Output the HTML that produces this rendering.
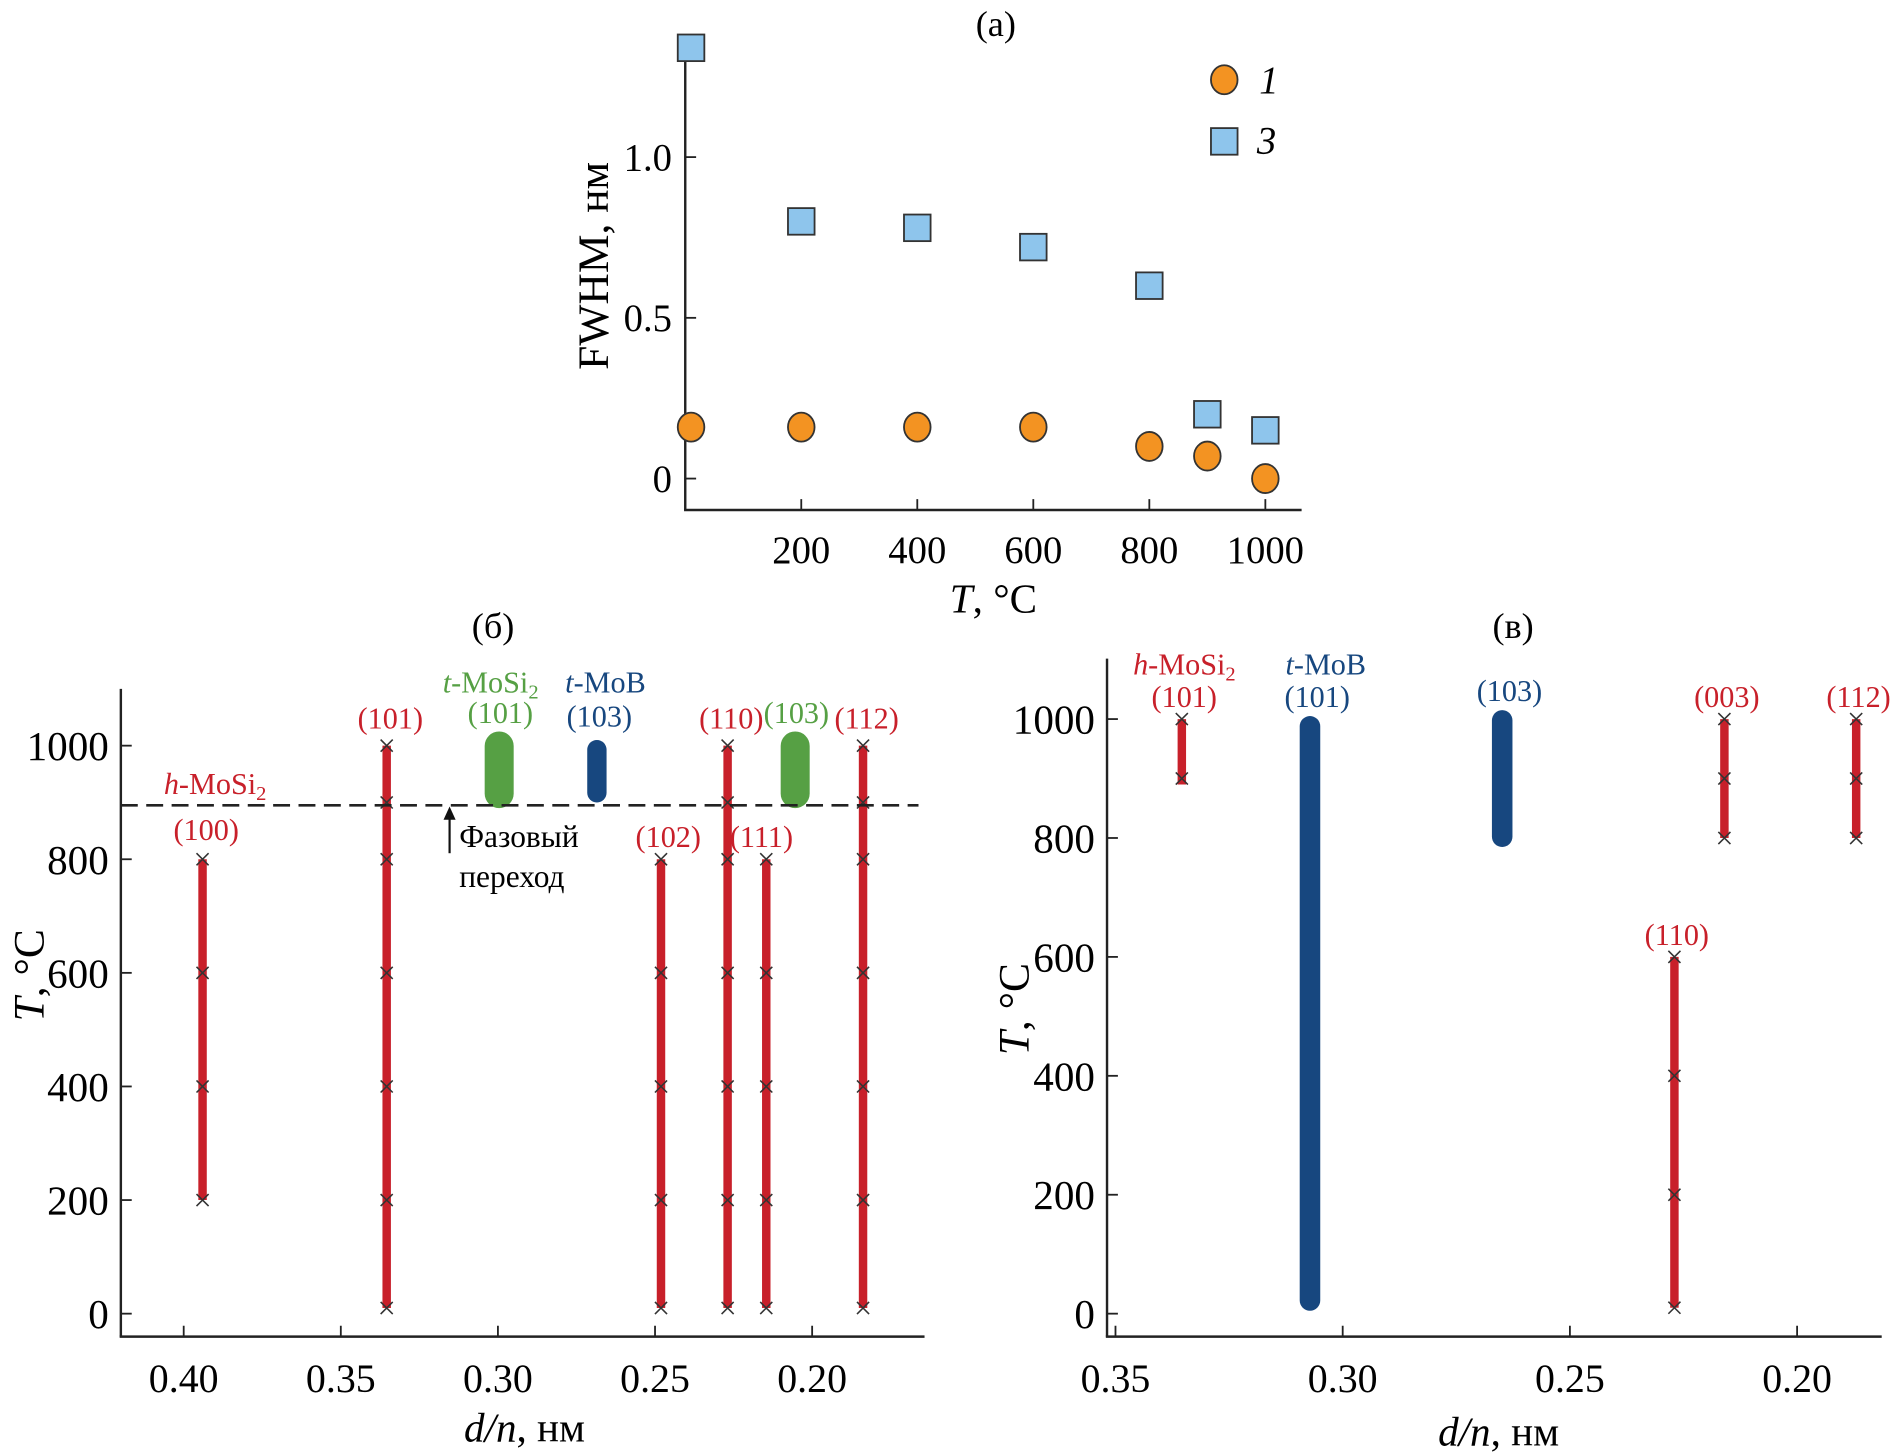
<!DOCTYPE html>
<html><head><meta charset="utf-8"><style>
html,body{margin:0;padding:0;background:#fff;}
svg{display:block;}
text{font-family:"Liberation Serif",serif;}
</style></head><body>
<svg id="fig" width="1895" height="1453" viewBox="0 0 1568 1202.3" preserveAspectRatio="none" xmlns="http://www.w3.org/2000/svg">
<g id="pa"></g>
<g id="pb"></g>
<g id="pc"></g>
</svg>
<script>
// Panel (a) data
const aTemps = [10, 200, 400, 600, 800, 900, 1000];
const aSeries1 = [0.16, 0.16, 0.16, 0.16, 0.10, 0.07, 0.0];
const aSeries3 = [1.34, 0.80, 0.78, 0.72, 0.60, 0.20, 0.15];
const aXTicks = [200, 400, 600, 800, 1000];
const aYTicks = [0, 0.5, 1.0];
const aYTickLabels = ["0", "0.5", "1.0"];
// Panel (б) data
const bTicksX = [0.40, 0.35, 0.30, 0.25, 0.20];
const bTicksXLabels = ["0.40", "0.35", "0.30", "0.25", "0.20"];
const bTicksY = [0, 200, 400, 600, 800, 1000];
const bRedD = [0.394, 0.3354, 0.2481, 0.2269, 0.2146, 0.1838];
const bRedLo = [200, 10, 10, 10, 10, 10];
const bRedHi = [800, 1000, 800, 1000, 800, 1000];
const bRedLabels = ["(100)", "(101)", "(102)", "(110)", "(111)", "(112)"];
const bGreenD = [0.2996, 0.2054];
const bGreenLo = [890, 890];
const bGreenHi = [1025, 1025];
const bGreenLabels = ["(101)", "(103)"];
const bBlueD = [0.2685];
const bBlueLo = [900];
const bBlueHi = [1010];
const bBlueLabels = ["(103)"];
const bPhaseT = 895;
// Panel (в) data
const cTicksX = [0.35, 0.30, 0.25, 0.20];
const cTicksXLabels = ["0.35", "0.30", "0.25", "0.20"];
const cTicksY = [0, 200, 400, 600, 800, 1000];
const cRedD = [0.3354, 0.227, 0.216, 0.187];
const cRedLo = [890, 10, 800, 800];
const cRedHi = [1000, 600, 1000, 1000];
const cRedLabels = ["(101)", "(110)", "(003)", "(112)"];
const cBlueD = [0.3072, 0.2649];
const cBlueLo = [10, 790];
const cBlueHi = [1000, 1010];
const cBlueLabels = ["(101)", "(103)"];
const crossTemps = [10, 200, 400, 600, 800, 900, 1000];

const NS = "http://www.w3.org/2000/svg";
function mk(parent, tag, attrs, txt) {
  const e = document.createElementNS(NS, tag);
  for (const k in attrs) e.setAttribute(k, attrs[k]);
  if (txt !== undefined) e.textContent = txt;
  parent.appendChild(e);
  return e;
}
const RED = "#c8202a", GREEN = "#56a044", BLUE = "#17477f";
const LBL = 25;

// ---------- Panel (a) ----------
(function () {
  const g = document.getElementById("pa");
  const X = t => 567 + t * 0.48;
  const Y = v => 396 - v * 266;
  let e = mk(g, "line", {x1: 567, y1: 35, x2: 567, y2: 422, stroke: "#222", "stroke-width": 2});
   
  e = mk(g, "line", {x1: 566, y1: 422, x2: 1077, y2: 422, stroke: "#222", "stroke-width": 2});
   
  aXTicks.forEach(t => {
    mk(g, "line", {x1: X(t), y1: 422, x2: X(t), y2: 413, stroke: "#222", "stroke-width": 1.5});
    e = mk(g, "text", {x: X(t), y: 466, "text-anchor": "middle", "font-size": 32}, String(t));
     
  });
  aYTicks.forEach((v, i) => {
    mk(g, "line", {x1: 567, y1: Y(v), x2: 576, y2: Y(v), stroke: "#222", "stroke-width": 1.5});
    e = mk(g, "text", {x: 556, y: Y(v) + 11, "text-anchor": "end", "font-size": 32}, aYTickLabels[i]);
     
  });
  e = mk(g, "text", {x: 824, y: 30, "text-anchor": "middle", "font-size": 30}, "(a)");
   
  e = mk(g, "text", {x: 0, y: 0, "text-anchor": "middle", "font-size": 36, transform: "translate(503,220) rotate(-90)"}, "FWHM, нм");
   
  e = mk(g, "text", {x: 822, y: 507, "text-anchor": "middle", "font-size": 34});
   
  mk(e, "tspan", {"font-style": "italic"}, "T");
  mk(e, "tspan", {}, ", °C");
  aTemps.forEach((t, i) => {
    e = mk(g, "rect", {x: X(t) - 11, y: Y(aSeries3[i]) - 11, width: 22, height: 22, fill: "#8ec5ec", stroke: "#333", "stroke-width": 1.5});
     
    e = mk(g, "ellipse", {cx: X(t), cy: Y(aSeries1[i]), rx: 11, ry: 12, fill: "#f39322", stroke: "#333", "stroke-width": 1.5});
     
  });
  e = mk(g, "ellipse", {cx: 1013, cy: 66, rx: 11, ry: 12, fill: "#f39322", stroke: "#333", "stroke-width": 1.5});
   
  e = mk(g, "text", {x: 1042, y: 77, "font-size": 32, "font-style": "italic"}, "1");
   
  e = mk(g, "rect", {x: 1002, y: 106, width: 22, height: 22, fill: "#8ec5ec", stroke: "#333", "stroke-width": 1.5});
   
  e = mk(g, "text", {x: 1040, y: 127, "font-size": 32, "font-style": "italic"}, "3");
   
})();

function drawCrosses(g, x, lo, hi, Y) {
  crossTemps.forEach(t => {
    if (t >= lo && t <= hi) {
      const y = Y(t);
      const c = mk(g, "path", {d: `M${x-5} ${y-5}L${x+5} ${y+5}M${x+5} ${y-5}L${x-5} ${y+5}`, stroke: "#333", "stroke-width": 1.3});
       
    }
  });
}
function drawAxes(g, x0, x1, yTop, yBot, Y, ticksY, X, ticksX, ticksXLabels, prefix) {
  let e = mk(g, "line", {x1: x0, y1: yTop, x2: x0, y2: yBot, stroke: "#222", "stroke-width": 2});
   
  e = mk(g, "line", {x1: x0 - 1, y1: yBot, x2: x1, y2: yBot, stroke: "#222", "stroke-width": 2});
   
  ticksY.forEach(t => {
    mk(g, "line", {x1: x0, y1: Y(t), x2: x0 + 9, y2: Y(t), stroke: "#222", "stroke-width": 1.5});
    e = mk(g, "text", {x: x0 - 10, y: Y(t) + 12, "text-anchor": "end", "font-size": 34}, String(t));
     
  });
  ticksX.forEach((d, i) => {
    mk(g, "line", {x1: X(d), y1: yBot, x2: X(d), y2: yBot - 9, stroke: "#222", "stroke-width": 1.5});
    e = mk(g, "text", {x: X(d), y: yBot + 46, "text-anchor": "middle", "font-size": 33}, ticksXLabels[i]);
     
  });
}
function phaseLabel(g, x, y, color, name) {
  const e = mk(g, "text", {x: x, y: y, "text-anchor": "middle", "font-size": LBL, fill: color});
   
  return e;
}

// ---------- Panel (б) ----------
(function () {
  const g = document.getElementById("pb");
  const X = d => 152 + (0.40 - d) * 2600;
  const Y = t => 1087 - t * 0.47;
  drawAxes(g, 100, 765, 570, 1106, Y, bTicksY, X, bTicksX, bTicksXLabels, "b");
  let e = mk(g, "text", {x: 408, y: 528, "text-anchor": "middle", "font-size": 30}, "(б)");
   
  e = mk(g, "text", {x: 0, y: 0, "text-anchor": "middle", "font-size": 36, transform: "translate(36,807) rotate(-90)"});
   
  mk(e, "tspan", {"font-style": "italic"}, "T");
  mk(e, "tspan", {}, ", °C");
  e = mk(g, "text", {x: 434, y: 1193, "text-anchor": "middle", "font-size": 34});
   
  mk(e, "tspan", {"font-style": "italic"}, "d/n");
  mk(e, "tspan", {}, ", нм");
  bGreenD.forEach((d, i) => {
    e = mk(g, "line", {x1: X(d), y1: Y(bGreenLo[i]) - 12, x2: X(d), y2: Y(bGreenHi[i]) + 12, stroke: GREEN, "stroke-width": 24, "stroke-linecap": "round"});
     
    e = phaseLabel(g, X(d) + 1, Y(bGreenHi[i]) - 7, GREEN, 't-mosi2-peak-label'); e.textContent = bGreenLabels[i];
  });
  bBlueD.forEach((d, i) => {
    e = mk(g, "line", {x1: X(d), y1: Y(bBlueLo[i]) - 8, x2: X(d), y2: Y(bBlueHi[i]) + 8, stroke: BLUE, "stroke-width": 16, "stroke-linecap": "round"});
     
    e = phaseLabel(g, X(d) + 2, Y(bBlueHi[i]) - 11, BLUE, 't-mob-peak-label'); e.textContent = bBlueLabels[i];
  });
  bRedD.forEach((d, i) => {
    const x = X(d);
    e = mk(g, "line", {x1: x, y1: Y(bRedLo[i]), x2: x, y2: Y(bRedHi[i]), stroke: RED, "stroke-width": 7});
     
    drawCrosses(g, x, bRedLo[i], bRedHi[i], Y);
    const ly = bRedHi[i] >= 1000 ? Y(bRedHi[i]) - 14 : Y(bRedHi[i]) - 10;
    const lx = (bRedLabels[i] === "(102)") ? x + 6 : (bRedLabels[i] === "(111)" ? x - 4 : x + 3);
    e = phaseLabel(g, lx, bRedLabels[i] === "(100)" ? Y(bRedHi[i]) - 16 : ly, RED, 'h-mosi2-peak-label');
    e.textContent = bRedLabels[i];
  });
  e = mk(g, "line", {x1: 100, y1: Y(bPhaseT), x2: 760, y2: Y(bPhaseT), stroke: "#222", "stroke-width": 2.2, "stroke-dasharray": "14 7"});
   
  e = mk(g, "line", {x1: 372, y1: 706, x2: 372, y2: Y(bPhaseT) + 10, stroke: "#111", "stroke-width": 1.8});
   
  mk(g, "path", {d: `M367 ${Y(bPhaseT)+12} L372 ${Y(bPhaseT)+1} L377 ${Y(bPhaseT)+12}Z`, fill: "#111"});
  e = mk(g, "text", {x: 380, y: 701, "font-size": 26}, "Фазовый");
   
  e = mk(g, "text", {x: 380, y: 734, "font-size": 26}, "переход");
   
  e = mk(g, "text", {x: 178, y: 657, "text-anchor": "middle", "font-size": LBL, fill: RED});
   
  mk(e, "tspan", {"font-style": "italic"}, "h"); mk(e, "tspan", {}, "-MoSi"); mk(e, "tspan", {"font-size": 17, dy: 5}, "2");
  e = mk(g, "text", {x: 406, y: 573, "text-anchor": "middle", "font-size": LBL, fill: GREEN});
   
  mk(e, "tspan", {"font-style": "italic"}, "t"); mk(e, "tspan", {}, "-MoSi"); mk(e, "tspan", {"font-size": 17, dy: 5}, "2");
  e = mk(g, "text", {x: 501, y: 573, "text-anchor": "middle", "font-size": LBL, fill: BLUE});
   
  mk(e, "tspan", {"font-style": "italic"}, "t"); mk(e, "tspan", {}, "-MoB");
})();

// ---------- Panel (в) ----------
(function () {
  const g = document.getElementById("pc");
  const X = d => 1111 + (0.30 - d) * 3760;
  const Y = t => 1087 - t * 0.492;
  drawAxes(g, 916, 1557, 545, 1106, Y, cTicksY, X, cTicksX, cTicksXLabels, "c");
  let e = mk(g, "text", {x: 1252, y: 528, "text-anchor": "middle", "font-size": 30}, "(в)");
   
  e = mk(g, "text", {x: 0, y: 0, "text-anchor": "middle", "font-size": 36, transform: "translate(851,835) rotate(-90)"});
   
  mk(e, "tspan", {"font-style": "italic"}, "T");
  mk(e, "tspan", {}, ", °C");
  e = mk(g, "text", {x: 1240, y: 1196, "text-anchor": "middle", "font-size": 34});
   
  mk(e, "tspan", {"font-style": "italic"}, "d/n");
  mk(e, "tspan", {}, ", нм");
  cBlueD.forEach((d, i) => {
    e = mk(g, "line", {x1: X(d), y1: Y(cBlueLo[i]) - 6, x2: X(d), y2: Y(cBlueHi[i]) + 6, stroke: BLUE, "stroke-width": 17, "stroke-linecap": "round"});
     
    e = phaseLabel(g, X(d) + 6, Y(cBlueHi[i]) - 10, BLUE, 't-mob-peak-label'); e.textContent = cBlueLabels[i];
  });
  cRedD.forEach((d, i) => {
    const x = X(d);
    e = mk(g, "line", {x1: x, y1: Y(cRedLo[i]), x2: x, y2: Y(cRedHi[i]), stroke: RED, "stroke-width": 7});
     
    drawCrosses(g, x, cRedLo[i], cRedHi[i], Y);
    e = phaseLabel(g, x + 2, Y(cRedHi[i]) - 10, RED, 'h-mosi2-peak-label'); e.textContent = cRedLabels[i];
  });
  e = mk(g, "text", {x: 980, y: 558, "text-anchor": "middle", "font-size": LBL, fill: RED});
   
  mk(e, "tspan", {"font-style": "italic"}, "h"); mk(e, "tspan", {}, "-MoSi"); mk(e, "tspan", {"font-size": 17, dy: 5}, "2");
  e = mk(g, "text", {x: 1097, y: 558, "text-anchor": "middle", "font-size": LBL, fill: BLUE});
   
  mk(e, "tspan", {"font-style": "italic"}, "t"); mk(e, "tspan", {}, "-MoB");
})();
</script>
</body></html>
